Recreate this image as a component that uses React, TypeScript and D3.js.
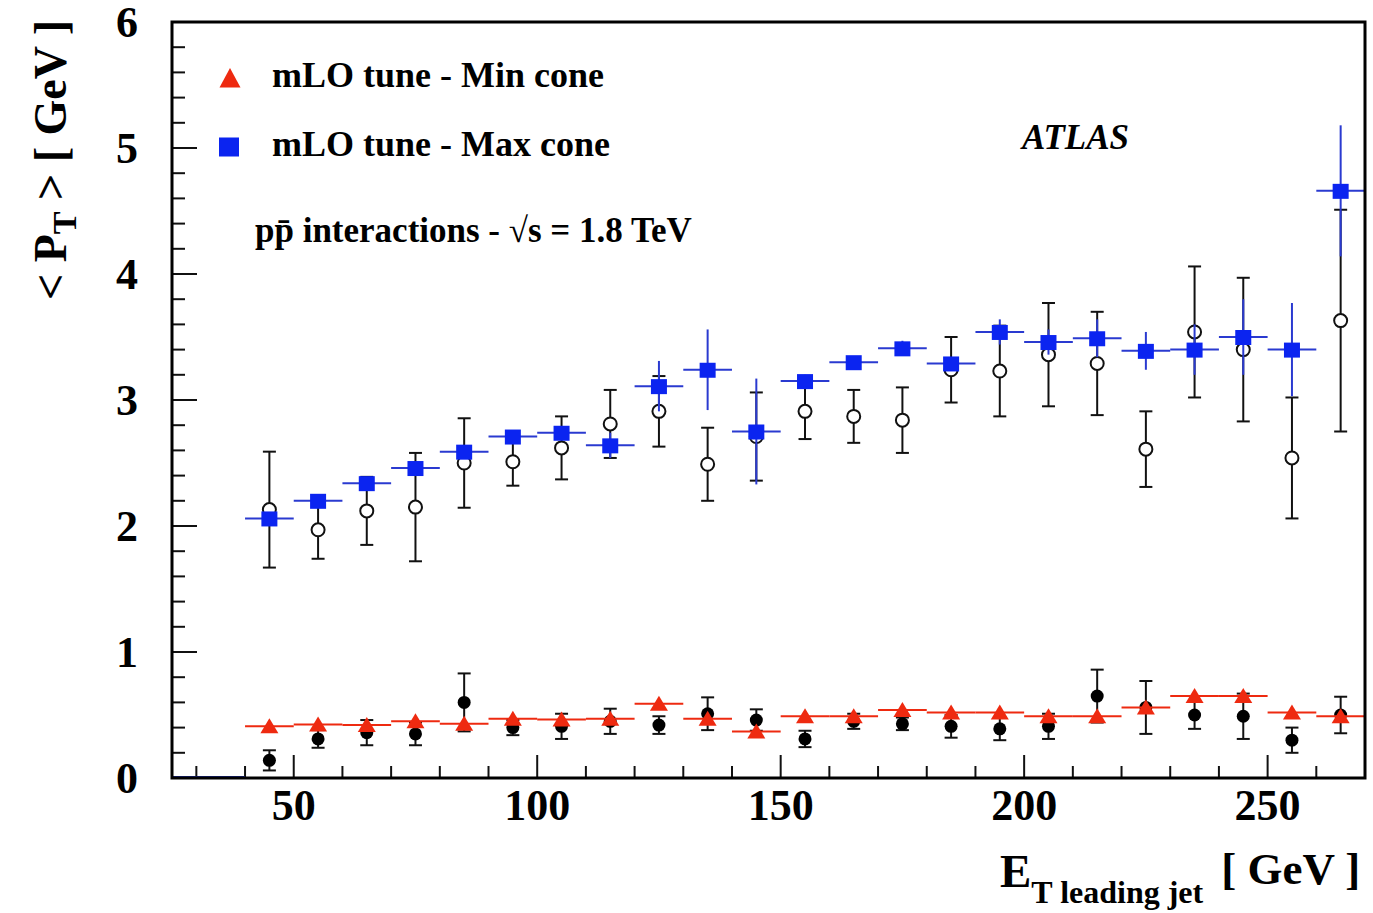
import React from "react";
import * as d3 from "d3";

// bin centres of the leading-jet E_T histogram (10 GeV bins)
const binCenters = [45, 55, 65, 75, 85, 95, 105, 115, 125, 135, 145, 155, 165, 175, 185, 195, 205, 215, 225, 235, 245, 255, 265];

// mLO tune - Max cone (blue squares)
const maxConeMC = [2.06, 2.2, 2.34, 2.46, 2.59, 2.71, 2.74, 2.64, 3.11, 3.24, 2.75, 3.15, 3.3, 3.41, 3.29, 3.54, 3.46, 3.49, 3.39, 3.4, 3.5, 3.4, 4.66];
const maxConeMCErr = [0.03, 0.03, 0.03, 0.03, 0.03, 0.03, 0.03, 0.1, 0.2, 0.32, 0.42, 0.05, 0.04, 0.06, 0.05, 0.1, 0.1, 0.15, 0.15, 0.2, 0.3, 0.37, 0.52];

// data, max cone (open circles)
const maxConeData = [2.13, 1.97, 2.12, 2.15, 2.5, 2.51, 2.62, 2.81, 2.91, 2.49, 2.71, 2.91, 2.87, 2.84, 3.24, 3.23, 3.36, 3.29, 2.61, 3.54, 3.4, 2.54, 3.63];
const maxConeDataErr = [0.46, 0.23, 0.27, 0.43, 0.355, 0.19, 0.25, 0.27, 0.28, 0.29, 0.35, 0.22, 0.21, 0.26, 0.26, 0.36, 0.41, 0.41, 0.3, 0.52, 0.57, 0.48, 0.88];

// data, min cone (filled circles)
const minConeData = [0.14, 0.31, 0.36, 0.35, 0.6, 0.4, 0.41, 0.45, 0.42, 0.51, 0.46, 0.31, 0.45, 0.43, 0.41, 0.39, 0.41, 0.65, 0.56, 0.5, 0.49, 0.3, 0.5];
const minConeDataErr = [0.08, 0.07, 0.1, 0.09, 0.23, 0.06, 0.1, 0.1, 0.07, 0.13, 0.085, 0.065, 0.06, 0.05, 0.09, 0.09, 0.1, 0.21, 0.21, 0.11, 0.18, 0.1, 0.145];

// mLO tune - Min cone (red triangles)
const minConeMC = [0.41, 0.425, 0.42, 0.45, 0.43, 0.47, 0.465, 0.47, 0.59, 0.47, 0.37, 0.49, 0.49, 0.54, 0.52, 0.52, 0.49, 0.49, 0.56, 0.65, 0.65, 0.52, 0.49];

const xMajor = [50, 100, 150, 200, 250];
const yMajor = [0, 1, 2, 3, 4, 5, 6];
const binHalf = 5;

const FONT = "'Liberation Serif', 'Times New Roman', serif";
const BLUE = "#0b24f0";
const BLUE_LINE = "#2a3ad0";
const RED = "#ee2a10";

const useD3 = (renderFn: (svg: any) => void, deps: any[]) => {
  const ref = React.useRef<SVGSVGElement>(null);
  React.useEffect(() => {
    renderFn(d3.select(ref.current));
  }, deps);
  return ref;
};

function Chart() {
  const width = 1373;
  const height = 913;
  const margin = { top: 22, right: 8, bottom: 135, left: 172 };

  const ref = useD3((svg) => {
    svg.selectAll("*").remove();

    const x = d3.scaleLinear().domain([25, 270]).range([margin.left, width - margin.right]);
    const y = d3.scaleLinear().domain([0, 6]).range([height - margin.bottom, margin.top]);

    const rows = binCenters.map((c, i) => ({
      c,
      mc: maxConeMC[i],
      mcErr: maxConeMCErr[i],
      d: maxConeData[i],
      dErr: maxConeDataErr[i],
      md: minConeData[i],
      mdErr: minConeDataErr[i],
      mmc: minConeMC[i],
    }));

    // ticks
    const ticks = svg.append("g").attr("stroke", "#111").attr("stroke-width", 2);
    const x0 = x.range()[0];
    const y0 = y.range()[0];
    ticks
      .selectAll(".xt")
      .data(d3.range(30, 270, 10))
      .join("line")
      .attr("x1", (d) => x(d))
      .attr("x2", (d) => x(d))
      .attr("y1", y0)
      .attr("y2", (d) => y0 - (d % 50 === 0 ? 23 : 12));
    ticks
      .selectAll(".yt")
      .data(d3.range(0, 30).map((i) => i * 0.2))
      .join("line")
      .attr("y1", (d) => y(d))
      .attr("y2", (d) => y(d))
      .attr("x1", x0)
      .attr("x2", (d) => x0 + (Math.abs(d - Math.round(d)) < 1e-6 ? 25 : 13));

    // empty first bins of the histogram at 0
    svg
      .append("line")
      .attr("x1", x(25))
      .attr("x2", x(40))
      .attr("y1", y(0) - 1)
      .attr("y2", y(0) - 1)
      .attr("stroke", "#1b2a9a")
      .attr("stroke-width", 2);

    const errBar = (g, val, err) => {
      g.append("line")
        .attr("x1", (d) => x(d.c))
        .attr("x2", (d) => x(d.c))
        .attr("y1", (d) => y(val(d) + err(d)))
        .attr("y2", (d) => y(val(d) - err(d)));
      g.append("line")
        .attr("x1", (d) => x(d.c) - 6.5)
        .attr("x2", (d) => x(d.c) + 6.5)
        .attr("y1", (d) => y(val(d) + err(d)))
        .attr("y2", (d) => y(val(d) + err(d)));
      g.append("line")
        .attr("x1", (d) => x(d.c) - 6.5)
        .attr("x2", (d) => x(d.c) + 6.5)
        .attr("y1", (d) => y(val(d) - err(d)))
        .attr("y2", (d) => y(val(d) - err(d)));
    };

    // data, max cone: open circles with error bars
    const open = svg
      .append("g")
      .selectAll("g")
      .data(rows)
      .join("g")
      .attr("stroke", "#111")
      .attr("stroke-width", 2);
    errBar(open, (d) => d.d, (d) => d.dErr);
    open
      .append("circle")
      .attr("cx", (d) => x(d.c))
      .attr("cy", (d) => y(d.d))
      .attr("r", 6.5)
      .attr("fill", "#fff");

    // data, min cone: filled circles
    const filled = svg
      .append("g")
      .selectAll("g")
      .data(rows)
      .join("g")
      .attr("stroke", "#111")
      .attr("stroke-width", 2);
    errBar(filled, (d) => d.md, (d) => d.mdErr);
    filled
      .append("circle")
      .attr("cx", (d) => x(d.c))
      .attr("cy", (d) => y(d.md))
      .attr("r", 6.5)
      .attr("fill", "#000")
      .attr("stroke", "none");

    // mLO max cone: blue squares with bin-width bars
    const blue = svg.append("g").selectAll("g").data(rows).join("g");
    blue
      .append("line")
      .attr("x1", (d) => x(d.c - binHalf))
      .attr("x2", (d) => x(d.c + binHalf))
      .attr("y1", (d) => y(d.mc))
      .attr("y2", (d) => y(d.mc))
      .attr("stroke", BLUE_LINE)
      .attr("stroke-width", 2);
    blue
      .append("line")
      .attr("x1", (d) => x(d.c))
      .attr("x2", (d) => x(d.c))
      .attr("y1", (d) => y(d.mc + d.mcErr))
      .attr("y2", (d) => y(d.mc - d.mcErr))
      .attr("stroke", BLUE_LINE)
      .attr("stroke-width", 2);
    blue
      .append("rect")
      .attr("x", (d) => x(d.c) - 8)
      .attr("y", (d) => y(d.mc) - 7)
      .attr("width", 16)
      .attr("height", 15)
      .attr("fill", BLUE);

    // mLO min cone: red triangles with bin-width bars
    const red = svg.append("g").selectAll("g").data(rows).join("g");
    red
      .append("line")
      .attr("x1", (d) => x(d.c - binHalf))
      .attr("x2", (d) => x(d.c + binHalf))
      .attr("y1", (d) => y(d.mmc))
      .attr("y2", (d) => y(d.mmc))
      .attr("stroke", RED)
      .attr("stroke-width", 2);
    red
      .append("path")
      .attr("d", (d) => {
        const cx = x(d.c);
        const cy = y(d.mmc);
        return `M${cx},${cy - 8}L${cx + 9},${cy + 7}L${cx - 9},${cy + 7}Z`;
      })
      .attr("fill", RED);

    // frame
    svg
      .append("rect")
      .attr("x", x0)
      .attr("y", y.range()[1])
      .attr("width", x.range()[1] - x0)
      .attr("height", y0 - y.range()[1])
      .attr("fill", "none")
      .attr("stroke", "#000")
      .attr("stroke-width", 3);

    // tick labels
    const labels = svg
      .append("g")
      .attr("font-family", FONT)
      .attr("font-weight", "bold")
      .attr("font-size", 44)
      .attr("fill", "#000");
    labels
      .selectAll(".xl")
      .data(xMajor)
      .join("text")
      .attr("x", (d) => x(d))
      .attr("y", 820)
      .attr("text-anchor", "middle")
      .text((d) => d);
    labels
      .selectAll(".yl")
      .data(yMajor)
      .join("text")
      .attr("x", 138)
      .attr("y", (d) => y(d) + 15)
      .attr("text-anchor", "end")
      .text((d) => d);

    // legend
    const lg = svg
      .append("g")
      .attr("font-family", FONT)
      .attr("font-weight", "bold")
      .attr("font-size", 36)
      .attr("fill", "#000");
    lg.append("path").attr("d", "M230,68L240.5,87.5L219.5,87.5Z").attr("fill", RED);
    lg.append("text").attr("x", 272).attr("y", 87).text("mLO tune - Min cone");
    lg.append("rect").attr("x", 219).attr("y", 137.5).attr("width", 20).attr("height", 19).attr("fill", BLUE);
    lg.append("text").attr("x", 272).attr("y", 156).text("mLO tune - Max cone");
    lg.append("text").attr("x", 255).attr("y", 242).attr("font-size", 35).text("pp\u0304 interactions - \u221As = 1.8 TeV");

    svg
      .append("text")
      .attr("x", 1022)
      .attr("y", 149)
      .attr("font-family", FONT)
      .attr("font-weight", "bold")
      .attr("font-style", "italic")
      .attr("font-size", 35)
      .text("ATLAS");

    // axis titles
    const xt = svg
      .append("text")
      .attr("x", 1000)
      .attr("y", 887)
      .attr("font-family", FONT)
      .attr("font-weight", "bold");
    xt.append("tspan").attr("font-size", 47).text("E");
    xt.append("tspan").attr("font-size", 32).attr("dy", 16).text("T leading jet");
    xt.append("tspan").attr("font-size", 45).attr("dy", -19).attr("dx", 18).text("[ GeV ]");

    const yt = svg
      .append("text")
      .attr("transform", "translate(66,160) rotate(-90)")
      .attr("text-anchor", "middle")
      .attr("font-family", FONT)
      .attr("font-weight", "bold")
      .attr("font-size", 46);
    yt.append("tspan").text("< P");
    yt.append("tspan").attr("font-size", 34).attr("dy", 10).text("T");
    yt.append("tspan").attr("dy", -10).text(" > [ GeV ]");
  }, []);

  return (
    <svg
      ref={ref}
      width={width}
      height={height}
      style={{ position: "absolute", left: 0, top: 0, background: "#fff" }}
    />
  );
}

export default function App() {
  return <Chart />;
}
